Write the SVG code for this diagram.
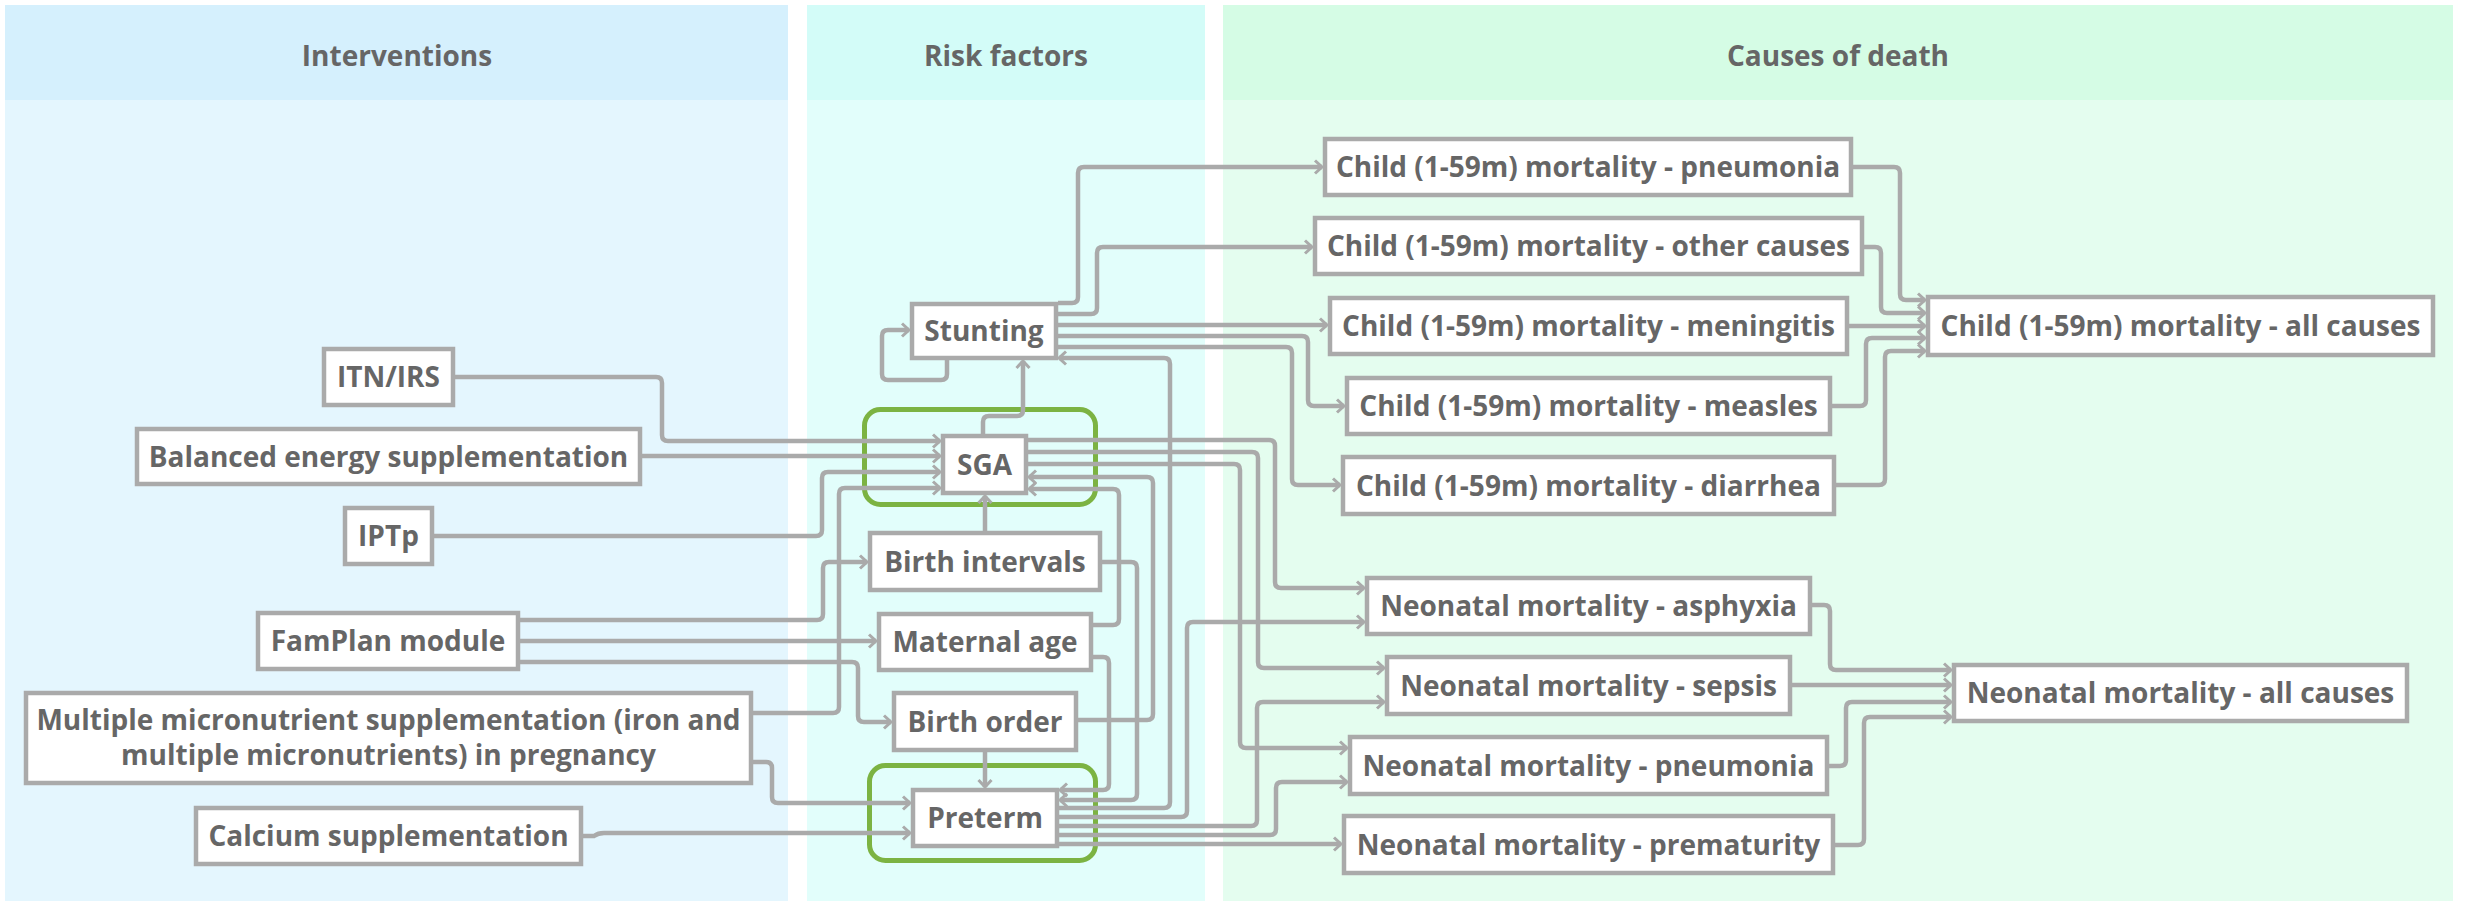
<svg xmlns="http://www.w3.org/2000/svg" width="2465" height="906" viewBox="0 0 2465 906">
<defs>
<style>
.hdr{font-family:"Open Sans","Liberation Sans",sans-serif;font-weight:700;font-size:28px;fill:#666;text-anchor:middle}
.nb rect{fill:#fff;stroke:#aaa;stroke-width:4.5}
.nb text{font-family:"Open Sans","Liberation Sans",sans-serif;font-weight:700;font-size:28px;fill:#666;text-anchor:middle}
.hl{fill:none;stroke:#7cb342;stroke-width:5}
#edges path{fill:none;stroke:#aaa;stroke-width:4.5;marker-end:url(#arr)}
</style>
<marker id="arr" markerWidth="14" markerHeight="18" refX="10" refY="9" orient="auto" markerUnits="userSpaceOnUse">
<path d="M3,2.5 L10,9 L3,15.5" fill="none" stroke="#aaa" stroke-width="3"/>
</marker>
</defs>
<rect width="2465" height="906" fill="#fff"/>
<g id="panels">
<rect x="5" y="5" width="783" height="95" fill="#d5f0fd"/>
<rect x="5" y="100" width="783" height="801" fill="#e4f6fe"/>
<rect x="807" y="5" width="398" height="95" fill="#d3fcf8"/>
<rect x="807" y="100" width="398" height="801" fill="#e2fefb"/>
<rect x="1223" y="5" width="1230" height="95" fill="#d5fce5"/>
<rect x="1223" y="100" width="1230" height="801" fill="#e4fdef"/>
<text class="hdr" x="397" y="66">Interventions</text>
<text class="hdr" x="1006" y="66">Risk factors</text>
<text class="hdr" x="1838" y="66">Causes of death</text>
</g>
<g id="highlights">
<rect class="hl" x="864.5" y="409.5" width="231" height="95" rx="16"/>
<rect class="hl" x="869.5" y="765.5" width="226" height="95" rx="16"/>
</g>
<g id="edges">
<path d="M455,377 H656 Q662,377 662,383 V435 Q662,441 668,441 H940"/>
<path d="M642,456 H940"/>
<path d="M434,536 H816 Q822,536 822,530 V478 Q822,472 828,472 H940"/>
<path d="M753,713 H833 Q839,713 839,707 V494 Q839,488 845,488 H940"/>
<path d="M520,620 H817 Q823,620 823,614 V568 Q823,562 829,562 H867"/>
<path d="M520,641 H876"/>
<path d="M520,662 H852 Q858,662 858,668 V716 Q858,722 864,722 H891"/>
<path d="M753,762 H766 Q772,762 772,768 V797 Q772,803 778,803 H910"/>
<path d="M583,836 H594 Q598,833 604,833 H910"/>
<path d="M983,434 V422 Q983,416 989,416 H1017 Q1023,416 1023,410 V361"/>
<path d="M947,360 V374 Q947,380 941,380 H888 Q882,380 882,374 V336 Q882,330 888,330 H909"/>
<path d="M985,531 V496"/>
<path d="M985,752 V787"/>
<path d="M1078,720 H1147 Q1153,720 1153,714 V483 Q1153,477 1147,477 H1029"/>
<path d="M1093,625 H1113 Q1119,625 1119,619 V495 Q1119,489 1113,489 H1029"/>
<path d="M1093,657 H1103 Q1109,657 1109,663 V784 Q1109,790 1103,790 H1060"/>
<path d="M1102,562 H1131 Q1137,562 1137,568 V794 Q1137,800 1131,800 H1060"/>
<path d="M1059,808 H1164 Q1170,808 1170,802 V364 Q1170,358 1164,358 H1059"/>
<path d="M1058,303 H1072 Q1078,303 1078,297 V173 Q1078,167 1084,167 H1322"/>
<path d="M1058,314 H1091 Q1097,314 1097,308 V253 Q1097,247 1103,247 H1312"/>
<path d="M1058,325 H1327"/>
<path d="M1058,336 H1302 Q1308,336 1308,342 V400 Q1308,406 1314,406 H1344"/>
<path d="M1058,347 H1286 Q1292,347 1292,353 V479 Q1292,485 1298,485 H1340"/>
<path d="M1028,440 H1269 Q1275,440 1275,446 V582 Q1275,588 1281,588 H1364"/>
<path d="M1028,452 H1252 Q1258,452 1258,458 V662 Q1258,668 1264,668 H1384"/>
<path d="M1028,464 H1234 Q1240,464 1240,470 V742 Q1240,748 1246,748 H1347"/>
<path d="M1059,817 H1181 Q1187,817 1187,811 V628 Q1187,622 1193,622 H1364"/>
<path d="M1059,826 H1251 Q1257,826 1257,820 V708 Q1257,702 1263,702 H1384"/>
<path d="M1059,835 H1270 Q1276,835 1276,829 V788 Q1276,782 1282,782 H1347"/>
<path d="M1059,844 H1341"/>
<path d="M1853,167 H1894 Q1900,167 1900,173 V294 Q1900,300 1906,300 H1925"/>
<path d="M1864,247 H1875 Q1881,247 1881,253 V307 Q1881,313 1887,313 H1925"/>
<path d="M1849,326 H1925"/>
<path d="M1832,406 H1860 Q1866,406 1866,400 V344 Q1866,338 1872,338 H1925"/>
<path d="M1836,485 H1879 Q1885,485 1885,479 V357 Q1885,351 1891,351 H1925"/>
<path d="M1812,605 H1824 Q1830,605 1830,611 V664 Q1830,670 1836,670 H1951"/>
<path d="M1792,685 H1951"/>
<path d="M1829,766 H1840 Q1846,766 1846,760 V708 Q1846,702 1852,702 H1951"/>
<path d="M1835,845 H1858 Q1864,845 1864,839 V723 Q1864,717 1870,717 H1951"/>
</g>
<g id="n-itn" class="nb"><rect x="324" y="349" width="129" height="56"/><text x="388.5" y="387">ITN/IRS</text></g>
<g id="n-bes" class="nb"><rect x="137" y="429" width="503" height="55"/><text x="388.5" y="466.5">Balanced energy supplementation</text></g>
<g id="n-iptp" class="nb"><rect x="345" y="508" width="87" height="56"/><text x="388.5" y="546">IPTp</text></g>
<g id="n-famplan" class="nb"><rect x="258" y="613" width="260" height="56"/><text x="388" y="651">FamPlan module</text></g>
<g id="n-mmn" class="nb"><rect x="26" y="693" width="725" height="90"/><text x="388.5" y="730">Multiple micronutrient supplementation (iron and</text><text x="388.5" y="765">multiple micronutrients) in pregnancy</text></g>
<g id="n-calcium" class="nb"><rect x="196" y="808" width="385" height="56"/><text x="388.5" y="846">Calcium supplementation</text></g>
<g id="n-stunting" class="nb"><rect x="912" y="304" width="144" height="54"/><text x="984" y="341">Stunting</text></g>
<g id="n-sga" class="nb"><rect x="943" y="436" width="83" height="57"/><text x="984.5" y="474.5">SGA</text></g>
<g id="n-bint" class="nb"><rect x="870" y="533" width="230" height="57"/><text x="985" y="571.5">Birth intervals</text></g>
<g id="n-mage" class="nb"><rect x="879" y="614" width="212" height="56"/><text x="985" y="652">Maternal age</text></g>
<g id="n-border" class="nb"><rect x="894" y="693" width="182" height="57"/><text x="985" y="731.5">Birth order</text></g>
<g id="n-preterm" class="nb"><rect x="913" y="790" width="144" height="56"/><text x="985" y="828">Preterm</text></g>
<g id="n-c-pneu" class="nb"><rect x="1325" y="139" width="526" height="56"/><text x="1588" y="177">Child (1-59m) mortality - pneumonia</text></g>
<g id="n-c-other" class="nb"><rect x="1315" y="218" width="547" height="56"/><text x="1588.5" y="256">Child (1-59m) mortality - other causes</text></g>
<g id="n-c-men" class="nb"><rect x="1330" y="298" width="517" height="56"/><text x="1588.5" y="336">Child (1-59m) mortality - meningitis</text></g>
<g id="n-c-meas" class="nb"><rect x="1347" y="378" width="483" height="56"/><text x="1588.5" y="416">Child (1-59m) mortality - measles</text></g>
<g id="n-c-diar" class="nb"><rect x="1343" y="457" width="491" height="57"/><text x="1588.5" y="495.5">Child (1-59m) mortality - diarrhea</text></g>
<g id="n-c-all" class="nb"><rect x="1928" y="297" width="505" height="58"/><text x="2180.5" y="336">Child (1-59m) mortality - all causes</text></g>
<g id="n-n-asph" class="nb"><rect x="1367" y="578" width="443" height="56"/><text x="1588.5" y="616">Neonatal mortality - asphyxia</text></g>
<g id="n-n-seps" class="nb"><rect x="1387" y="657" width="403" height="57"/><text x="1588.5" y="695.5">Neonatal mortality - sepsis</text></g>
<g id="n-n-pneu" class="nb"><rect x="1350" y="737" width="477" height="57"/><text x="1588.5" y="775.5">Neonatal mortality - pneumonia</text></g>
<g id="n-n-prem" class="nb"><rect x="1344" y="816" width="489" height="57"/><text x="1588.5" y="854.5">Neonatal mortality - prematurity</text></g>
<g id="n-n-all" class="nb"><rect x="1954" y="665" width="453" height="56"/><text x="2180.5" y="703">Neonatal mortality - all causes</text></g>
</svg>
